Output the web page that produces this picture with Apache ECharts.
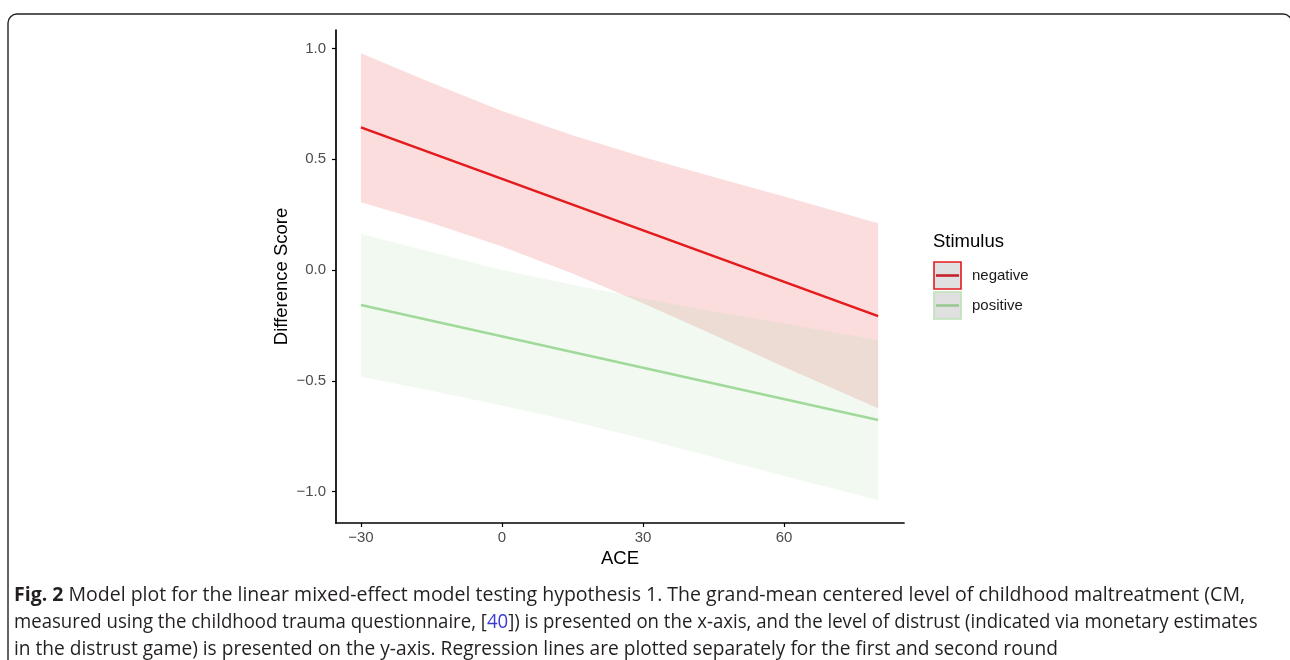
<!DOCTYPE html>
<html>
<head>
<meta charset="utf-8">
<script src="https://cdn.jsdelivr.net/npm/echarts@6/dist/echarts.min.js"></script>
<style>
html,body{margin:0;padding:0;background:#fff;}
#c{width:1290px;height:660px;}
</style>
</head>
<body>
<div id="c"></div>
<script>
// ---- data ----
const bandX = [-30, -15, 0, 15, 30, 45, 60, 80];
const negUpper = [0.978, 0.845, 0.718, 0.608, 0.510, 0.420, 0.332, 0.211];
const negLower = [0.306, 0.212, 0.106, -0.016, -0.150, -0.292, -0.438, -0.624];
const posUpper = [0.163, 0.081, 0.000, -0.067, -0.129, -0.187, -0.243, -0.316];
const posLower = [-0.482, -0.545, -0.612, -0.683, -0.762, -0.845, -0.930, -1.038];
const lineX = [-30, 80];
const negLine = [0.644, -0.208];
const posLine = [-0.158, -0.677];
const xTickValues = [-30, 0, 30, 60];
const xTickLabels = ['\u221230', '0', '30', '60'];
const yTickValues = [-1, -0.5, 0, 0.5, 1];
const yTickLabels = ['\u22121.0', '\u22120.5', '0.0', '0.5', '1.0'];
const legendNames = ['negative', 'positive'];
const captionLines = [
  '{b|Fig. 2} Model plot for the linear mixed-effect model testing hypothesis 1. The grand-mean centered level of childhood maltreatment (CM,',
  'measured using the childhood trauma questionnaire, [{l|40}]) is presented on the x-axis, and the level of distrust (indicated via monetary estimates',
  'in the distrust game) is presented on the y-axis. Regression lines are plotted separately for the first and second round'
];

const RED = '#e41a1c';
const GREEN = '#a1d99b';

const pairs = (xs, ys) => xs.map((x, i) => [x, ys[i]]);
const bandRows = (xs, lo, hi) => xs.map((x, i) => [x, lo[i], hi[i]]);

const chart = echarts.init(document.getElementById('c'), null, {renderer: 'canvas'});
const axisFont = 'Liberation Sans, Arial, sans-serif';
const capFont = '"Open Sans", sans-serif';

function ribbon(rows, color) {
  return {
    type: 'custom', silent: true, z: 1,
    data: rows,
    encode: {x: 0, y: [1, 2]},
    renderItem: function (params, api) {
      if (params.dataIndex !== 0) return null;
      const top = rows.map(r => api.coord([r[0], r[2]]));
      const bot = rows.map(r => api.coord([r[0], r[1]])).reverse();
      return {
        type: 'polygon',
        shape: {points: top.concat(bot)},
        style: {fill: color, opacity: 0.15}
      };
    }
  };
}

const capScale = [1.0, 0.954, 0.981];
const captionGraphics = captionLines.map((t, i) => ({
  type: 'text', x: 14, y: 585 + i * 27, scaleX: capScale[i],
  style: {
    text: t, font: '19.5px ' + capFont, fill: '#231f20',
    rich: {
      b: {font: 'bold 19.5px ' + capFont, fill: '#231f20'},
      l: {font: '19.5px ' + capFont, fill: '#3a3ad6'}
    }
  }
}));

const option = {
  animation: false,
  backgroundColor: '#fff',
  grid: {left: 336, right: 386, top: 30, bottom: 137, containLabel: false},
  xAxis: {
    type: 'value', min: -35.3, max: 85.5,
    name: 'ACE', nameLocation: 'middle', nameGap: 26,
    nameTextStyle: {color: '#000', fontSize: 18.5, fontFamily: axisFont},
    splitLine: {show: false},
    axisLine: {onZero: false, lineStyle: {color: '#000', width: 1.7}},
    axisTick: {show: true, length: 4, lineStyle: {color: '#000', width: 1.2}, customValues: xTickValues},
    axisLabel: {customValues: xTickValues, color: '#4d4d4d', fontSize: 15, fontFamily: axisFont, margin: 7,
      formatter: v => xTickLabels[xTickValues.indexOf(v)] ?? ''}
  },
  yAxis: {
    type: 'value', min: -1.142, max: 1.0835,
    name: 'Difference Score', nameLocation: 'middle', nameGap: 45,
    nameTextStyle: {color: '#000', fontSize: 18.5, fontFamily: axisFont},
    splitLine: {show: false},
    axisLine: {onZero: false, lineStyle: {color: '#000', width: 1.7}},
    axisTick: {show: true, length: 4, lineStyle: {color: '#000', width: 1.2}, customValues: yTickValues},
    axisLabel: {customValues: yTickValues, color: '#4d4d4d', fontSize: 15, fontFamily: axisFont, margin: 10,
      formatter: v => yTickLabels[yTickValues.findIndex(t => Math.abs(t - v) < 1e-9)] ?? ''}
  },
  series: [
    ribbon(bandRows(bandX, negLower, negUpper), RED),
    ribbon(bandRows(bandX, posLower, posUpper), GREEN),
    {name: legendNames[0], type: 'line', data: pairs(lineX, negLine), symbol: 'none', lineStyle: {color: RED, width: 2.6}, z: 3},
    {name: legendNames[1], type: 'line', data: pairs(lineX, posLine), symbol: 'none', lineStyle: {color: GREEN, width: 2.6}, z: 3}
  ],
  graphic: [
    {type: 'rect', shape: {x: 8, y: 14, width: 1284, height: 720, r: 9},
      style: {fill: 'none', stroke: '#222', lineWidth: 1.4}, silent: true},
    {type: 'text', left: 933, top: 232, style: {text: 'Stimulus', font: '18.5px ' + axisFont, fill: '#000'}},
    {type: 'rect', shape: {x: 934, y: 262, width: 27, height: 27}, style: {fill: '#e0e0e0', stroke: RED, lineWidth: 1.6}},
    {type: 'line', shape: {x1: 936, y1: 275.5, x2: 959, y2: 275.5}, style: {stroke: '#c8202a', lineWidth: 2.6}},
    {type: 'rect', shape: {x: 934, y: 292, width: 27, height: 27}, style: {fill: '#e0e0e0', stroke: '#bde3b7', lineWidth: 1.6}},
    {type: 'line', shape: {x1: 936, y1: 305.5, x2: 959, y2: 305.5}, style: {stroke: '#98c891', lineWidth: 2.6}},
    {type: 'text', left: 972, top: 268, style: {text: legendNames[0], font: '15px ' + axisFont, fill: '#1a1a1a'}},
    {type: 'text', left: 972, top: 298, style: {text: legendNames[1], font: '15px ' + axisFont, fill: '#1a1a1a'}}
  ].concat(captionGraphics)
};
chart.setOption(option);
</script>
</body>
</html>
